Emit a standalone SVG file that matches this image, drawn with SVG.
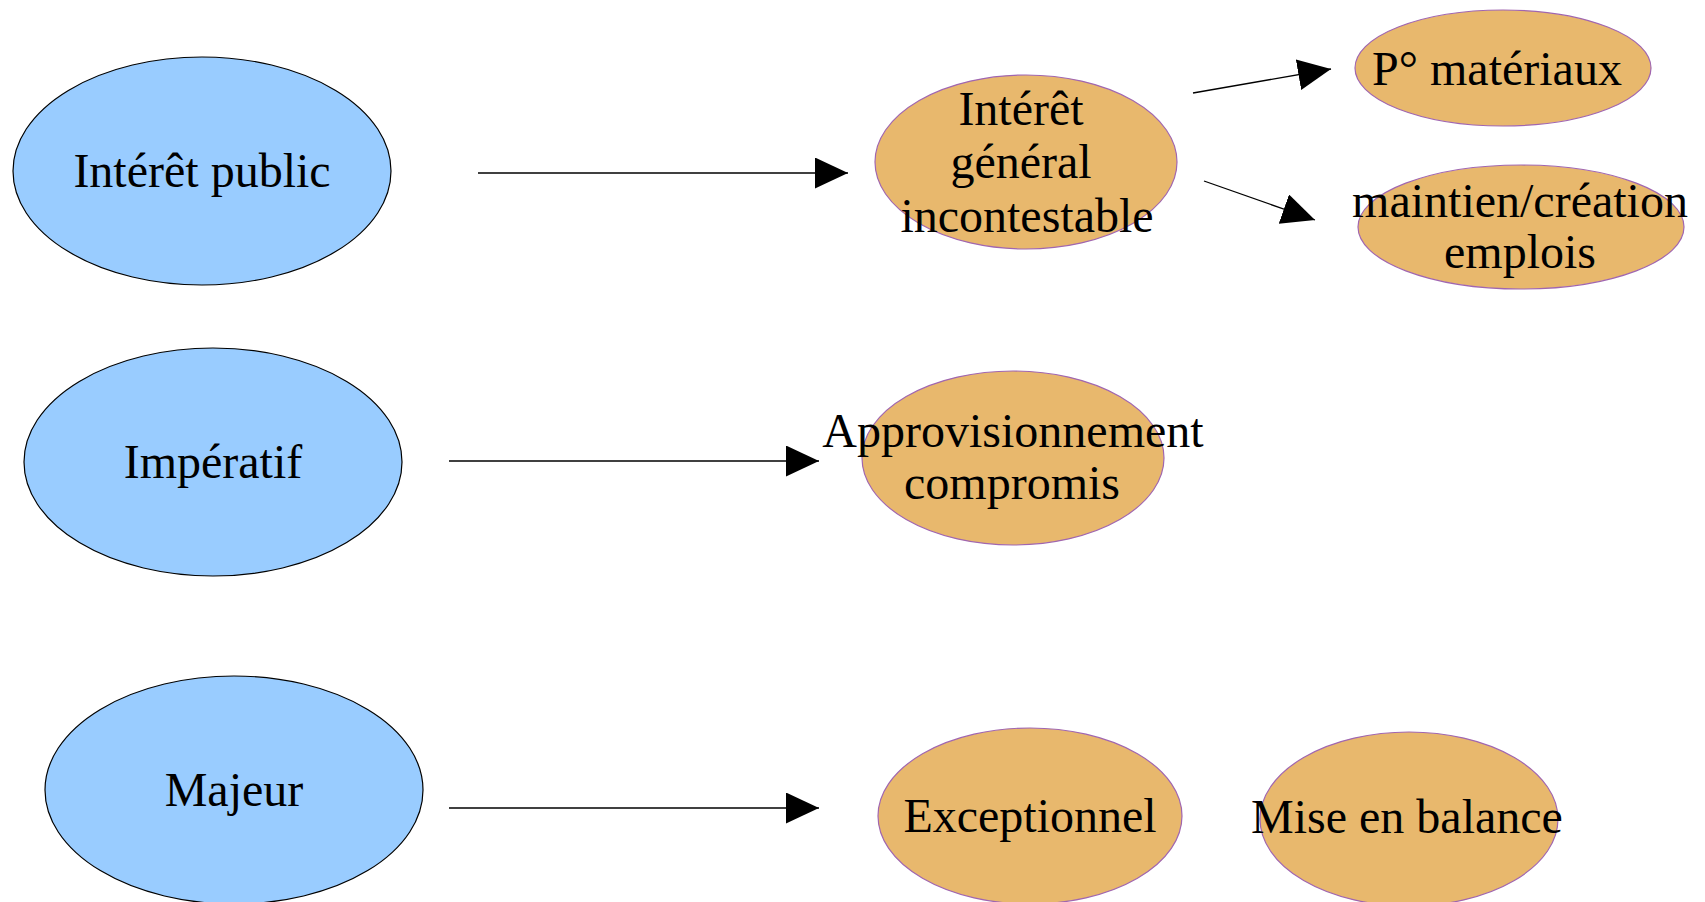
<svg xmlns="http://www.w3.org/2000/svg" width="1705" height="902" viewBox="0 0 1705 902">
<defs>
<marker id="ah" markerUnits="userSpaceOnUse" markerWidth="34" markerHeight="32" refX="33" refY="15.5" orient="auto">
<path d="M0,0 L33,15.5 L0,31 Z" fill="#000"/>
</marker>
<style>
.blue{fill:#99ccff;stroke:#000;stroke-width:1.2}
.orange{fill:#e8b86d;stroke:#a066b0;stroke-width:1.2}
text{font-family:"Liberation Serif","Times New Roman",serif;font-size:48px;fill:#000;text-anchor:middle}
.conn{stroke:#000;stroke-width:1.3;fill:none;marker-end:url(#ah)}
</style>
</defs>
<rect width="1705" height="902" fill="#fff"/>
<g id="n-interet-public">
<ellipse class="blue" cx="202" cy="171" rx="189" ry="114"/>
<text x="202" y="187">Intérêt public</text>
</g>
<g id="n-imperatif">
<ellipse class="blue" cx="213" cy="462" rx="189" ry="114"/>
<text x="213" y="478">Impératif</text>
</g>
<g id="n-majeur">
<ellipse class="blue" cx="234" cy="790" rx="189" ry="114"/>
<text x="234" y="806">Majeur</text>
</g>
<g id="n-interet-general">
<ellipse class="orange" cx="1026" cy="162" rx="151" ry="87"/>
<text x="1021" y="125">Intérêt</text>
<text x="1021" y="178">général</text>
<text x="1027" y="232">incontestable</text>
</g>
<g id="n-p-materiaux">
<ellipse class="orange" cx="1503" cy="68" rx="148" ry="58"/>
<text x="1497" y="85">P° matériaux</text>
</g>
<g id="n-maintien">
<ellipse class="orange" cx="1521" cy="227" rx="163" ry="62"/>
<text x="1520" y="217">maintien/création</text>
<text x="1520" y="268">emplois</text>
</g>
<g id="n-approvisionnement">
<ellipse class="orange" cx="1013" cy="458" rx="151" ry="87"/>
<text x="1013" y="447">Approvisionnement</text>
<text x="1012" y="499">compromis</text>
</g>
<g id="n-exceptionnel">
<ellipse class="orange" cx="1030" cy="816" rx="152" ry="88"/>
<text x="1030" y="832">Exceptionnel</text>
</g>
<g id="n-mise-en-balance">
<ellipse class="orange" cx="1409" cy="819" rx="149" ry="87"/>
<text x="1407" y="833">Mise en balance</text>
</g>
<g id="connectors">
<line class="conn" x1="478" y1="173" x2="848" y2="173"/>
<line class="conn" x1="449" y1="461" x2="819" y2="461"/>
<line class="conn" x1="449" y1="808" x2="819" y2="808"/>
<line class="conn" x1="1193" y1="93" x2="1331" y2="69"/>
<line class="conn" x1="1204" y1="181" x2="1315" y2="220"/>
</g>
</svg>
